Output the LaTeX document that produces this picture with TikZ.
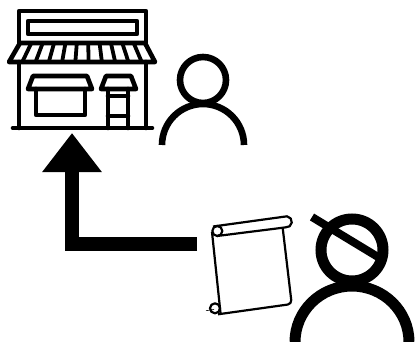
\documentclass[tikz,border=0pt]{standalone}
\usetikzlibrary{arrows.meta}
\tikzset{
  shopline/.style={line width=4.6pt, line join=round, line cap=round},
  bigarr/.style={-{Triangle[width=57pt, length=39pt]}, line width=14pt},
  personsmall/.style={line width=6.6pt},
  personbig/.style={line width=11pt},
  scrollline/.style={line width=2.2pt, line join=round},
}

\begin{document}
\begin{tikzpicture}[x=1pt, y=-1pt]
  \useasboundingbox (0,0) rectangle (415,342);
  % shop front
  \draw[shopline] (19,43) -- (19,11) -- (146,11) -- (146,43);
  \draw[shopline] (28,21) rectangle (137,34);
  \draw[shopline] (20,43) -- (145,43) -- (155,62) -- (9,62) -- cycle;
  \foreach \i in {1,...,10}
    \draw[line width=3.8pt] ({20+\i*125/11},43) -- ({9+\i*146/11},62);
  \draw[shopline] (19,62) -- (19,128);
  \draw[shopline] (146,62) -- (146,128);
  \draw[shopline] (13,128) -- (152,128);
  \draw[shopline] (33,76) -- (87,76) -- (92,89) -- (28,89) -- cycle;
  \draw[shopline] (36,89) -- (36,115) -- (85,115) -- (85,89);
  \draw[shopline] (106,76) -- (131,76) -- (136,89) -- (101,89) -- cycle;
  \draw[shopline] (108,89) -- (108,128);
  \draw[shopline] (128,89) -- (128,128);
  \draw[shopline] (108,96) -- (128,96);
  \draw[shopline] (108,116) -- (128,116);
  % customer
  \draw[personsmall] (203,80) circle[radius=23];
  \draw[personsmall] (162,145) arc[start angle=180, end angle=360, x radius=41, y radius=41];
  % order
  \coordinate (orderend) at (197,244);
  \coordinate (shopend) at (72,133);
  \draw[bigarr] (orderend) -| (shopend);
  % scroll
  \draw[scrollline] (213,226.5) -- (287,216.3) arc[start angle=-82, end angle=98, radius=5.6] -- (217,236);
  \draw[scrollline] (217.3,231) circle[radius=5];
  \draw[scrollline] (215,308.3) circle[radius=5];
  \draw[scrollline] (212,232) -- (220.5,313);
  \draw[scrollline, rounded corners=4pt] (282.7,228) -- (291.7,304) -- (218,314.3);
  \draw[line width=0.6pt] (206,310.7) -- (214,309.5);
  % seller
  \draw[personbig] (352,250) circle[radius=31];
  \draw[personbig] (295,342) arc[start angle=180, end angle=360, x radius=57, y radius=56];
  \draw[line width=8pt] (312,217) -- (378,257);
\end{tikzpicture}
\end{document}
